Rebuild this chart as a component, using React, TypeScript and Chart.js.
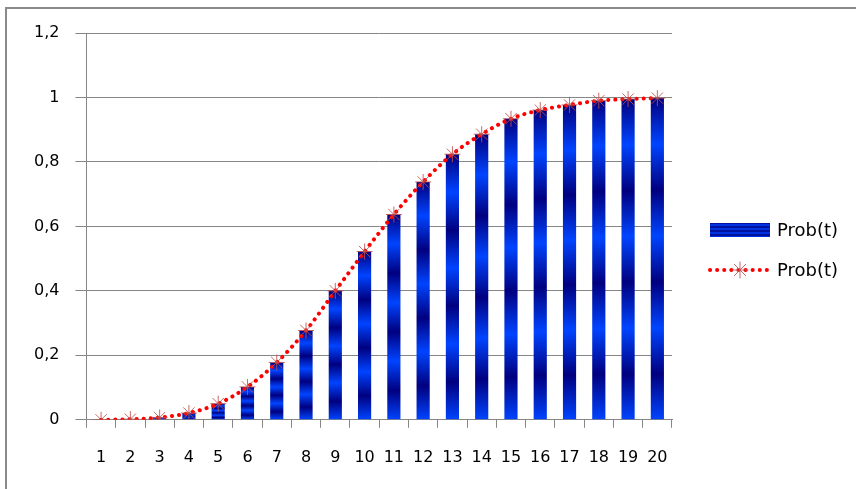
import React, { useEffect, useRef } from "react";
import { Chart, registerables } from "chart.js";

Chart.register(...registerables);

const categories: string[] = ["1","2","3","4","5","6","7","8","9","10","11","12","13","14","15","16","17","18","19","20"];
const probValues: number[] = [0, 0.002, 0.007, 0.021, 0.05, 0.102, 0.178, 0.277, 0.4, 0.522, 0.637, 0.738, 0.824, 0.886, 0.934, 0.961, 0.977, 0.99, 0.995, 0.998];
const lineValues: number[] = [0, 0.002, 0.007, 0.021, 0.05, 0.102, 0.178, 0.277, 0.4, 0.522, 0.637, 0.738, 0.824, 0.886, 0.934, 0.961, 0.977, 0.99, 0.995, 0.998];
const seriesNames: string[] = ["Prob(t)", "Prob(t)"];

const DARK = "#000080";
const BRIGHT = "#0044ff";
const GRID = "#868686";
const FONT = "'DejaVu Sans', sans-serif";

function stripeGradient(c: CanvasRenderingContext2D, top: number, bottom: number) {
  const g = c.createLinearGradient(0, top, 0, bottom);
  for (let i = 0; i <= 7; i++) {
    g.addColorStop(i / 7, i % 2 === 0 ? DARK : BRIGHT);
  }
  return g;
}

const legendPlugin = {
  id: "customLegend",
  afterDraw(chart: any) {
    const c: CanvasRenderingContext2D = chart.ctx;
    c.save();
    c.fillStyle = stripeGradient(c, 223, 237);
    c.fillRect(710, 223, 60, 14);
    c.fillStyle = "#000";
    c.font = "18px " + FONT;
    c.textBaseline = "middle";
    c.textAlign = "left";
    c.fillText(seriesNames[0], 777, 231);
    c.strokeStyle = "#ff0000";
    c.lineWidth = 4;
    c.lineCap = "round";
    c.setLineDash([0.1, 7]);
    c.beginPath();
    c.moveTo(710, 270);
    c.lineTo(770, 270);
    c.stroke();
    c.setLineDash([]);
    c.strokeStyle = "rgba(192,80,77,0.85)";
    c.lineWidth = 1;
    const cx = 740, cy = 270, r = 8;
    c.beginPath();
    for (let k = 0; k < 4; k++) {
      const a = (k * Math.PI) / 4;
      c.moveTo(cx - r * Math.cos(a), cy - r * Math.sin(a));
      c.lineTo(cx + r * Math.cos(a), cy + r * Math.sin(a));
    }
    c.stroke();
    c.fillStyle = "#000";
    c.fillText(seriesNames[1], 777, 271);
    c.restore();
  },
};

export default function App() {
  const ref = useRef<HTMLCanvasElement | null>(null);
  useEffect(() => {
    if (!ref.current) return;
    const chart = new Chart(ref.current, {
      data: {
        labels: categories,
        datasets: [
          {
            type: "line",
            label: seriesNames[1],
            data: lineValues,
            order: 0,
            borderColor: "#ff0000",
            borderWidth: 4,
            borderDash: [0.1, 7],
            borderCapStyle: "round",
            cubicInterpolationMode: "monotone",
            fill: false,
            pointStyle: "star",
            pointRadius: 8,
            pointBorderWidth: 1,
            pointBorderColor: "rgba(192,80,77,0.85)",
            pointBackgroundColor: "rgba(192,80,77,0.85)",
          } as any,
          {
            type: "bar",
            label: seriesNames[0],
            data: probValues,
            order: 1,
            barPercentage: 0.45,
            categoryPercentage: 1,
            backgroundColor: (ctx: any) => {
              const ch = ctx.chart;
              if (!ch.chartArea || ctx.raw === undefined) return DARK;
              const y = ch.scales.y;
              const top = y.getPixelForValue(ctx.raw);
              const base = y.getPixelForValue(0);
              if (base - top < 1) return DARK;
              return stripeGradient(ch.ctx, top, base);
            },
          } as any,
        ],
      },
      options: {
        animation: false,
        responsive: false,
        layout: { padding: { left: 18, top: 33, right: 184, bottom: 2 } },
        plugins: { legend: { display: false }, tooltip: { enabled: false } },
        scales: {
          x: {
            grid: { drawOnChartArea: false, drawTicks: true, tickLength: 8, color: GRID, offset: true },
            border: { display: true, color: GRID, width: 1 },
            ticks: { color: "#000", padding: 20, font: { family: FONT, size: 16 }, maxRotation: 0, autoSkip: false },
          },
          y: {
            min: 0,
            max: 1.2,
            grid: { color: GRID, lineWidth: 1, tickLength: 11 },
            border: { display: true, color: GRID, width: 1 },
            ticks: {
              stepSize: 0.2,
              color: "#000",
              padding: 16,
              font: { family: FONT, size: 16 },
              callback: (v: any) => String(Number(Number(v).toFixed(1))).replace(".", ","),
            },
          },
        },
      } as any,
      plugins: [legendPlugin],
    });
    return () => chart.destroy();
  }, []);
  return (
    <div style={{ position: "fixed", left: 0, top: 0, width: 856, height: 489, background: "#fff" }}>
      <canvas ref={ref} width={856} height={489} style={{ position: "absolute", left: 0, top: 0 }} />
      <div
        style={{
          position: "absolute",
          left: 5,
          top: 7,
          width: 856,
          height: 489,
          borderLeft: "2px solid #8a8a8a",
          borderTop: "2px solid #8a8a8a",
          pointerEvents: "none",
        }}
      />
    </div>
  );
}
